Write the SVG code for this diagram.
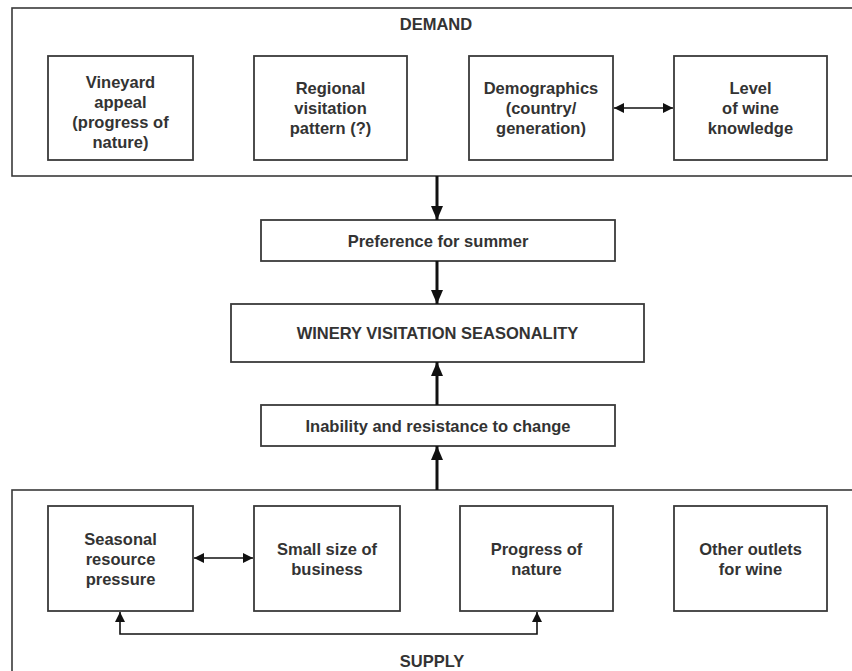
<svg xmlns="http://www.w3.org/2000/svg" width="852" height="671" viewBox="0 0 852 671">
  <style>
    .frame { fill: #ffffff; stroke: #3a3a3a; stroke-width: 1.6; }
    .box { fill: #ffffff; stroke: #3a3a3a; stroke-width: 1.8; }
    text { font-family: "Liberation Sans", Arial, Helvetica, sans-serif; font-weight: bold; font-size: 16.5px; fill: #333333; text-anchor: middle; }
    .main { fill: none; stroke: #111111; stroke-width: 3; }
    .thin { fill: none; stroke: #111111; stroke-width: 1.6; }
  </style>
  <defs>
    <marker id="bigHead" viewBox="0 0 14 12" refX="14" refY="6" markerWidth="14" markerHeight="12" markerUnits="userSpaceOnUse" orient="auto">
      <path d="M0,0 L14,6 L0,12 Z" fill="#111111"/>
    </marker>
    <marker id="smallHead" viewBox="0 0 10 10" refX="10" refY="5" markerWidth="10" markerHeight="10" markerUnits="userSpaceOnUse" orient="auto-start-reverse">
      <path d="M0,0 L10,5 L0,10 Z" fill="#111111"/>
    </marker>
  </defs>
  <rect width="852" height="671" fill="#ffffff"/>

  <!-- Demand panel -->
  <g id="demand">
    <rect class="frame" x="12" y="8" width="852" height="168"/>
    <text x="436" y="30">DEMAND</text>
  </g>
  <g id="vineyard-appeal">
    <rect class="box" x="48" y="56" width="145" height="104"/>
    <text x="120.5" y="88">Vineyard</text>
    <text x="120.5" y="108">appeal</text>
    <text x="120.5" y="128">(progress of</text>
    <text x="120.5" y="148">nature)</text>
  </g>
  <g id="regional-pattern">
    <rect class="box" x="254" y="56" width="153" height="104"/>
    <text x="330.5" y="94">Regional</text>
    <text x="330.5" y="114">visitation</text>
    <text x="330.5" y="134">pattern (?)</text>
  </g>
  <g id="demographics">
    <rect class="box" x="469" y="56" width="144" height="104"/>
    <text x="541" y="94">Demographics</text>
    <text x="541" y="114">(country/</text>
    <text x="541" y="134">generation)</text>
  </g>
  <g id="wine-knowledge">
    <rect class="box" x="674" y="56" width="153" height="104"/>
    <text x="750.5" y="94">Level</text>
    <text x="750.5" y="114">of wine</text>
    <text x="750.5" y="134">knowledge</text>
  </g>

  <!-- Central chain -->
  <g id="preference-summer">
    <rect class="box" x="261" y="220" width="354" height="41"/>
    <text x="438" y="247">Preference for summer</text>
  </g>
  <g id="seasonality">
    <rect class="box" x="231" y="304" width="413" height="58"/>
    <text x="437.5" y="339">WINERY VISITATION SEASONALITY</text>
  </g>
  <g id="resistance-change">
    <rect class="box" x="261" y="405" width="354" height="41"/>
    <text x="438" y="432">Inability and resistance to change</text>
  </g>

  <!-- Supply panel -->
  <g id="supply">
    <rect class="frame" x="12" y="490" width="852" height="200"/>
    <text x="432" y="667">SUPPLY</text>
  </g>
  <g id="resource-pressure">
    <rect class="box" x="48" y="506" width="145" height="105"/>
    <text x="120.5" y="545">Seasonal</text>
    <text x="120.5" y="565">resource</text>
    <text x="120.5" y="585">pressure</text>
  </g>
  <g id="business-size">
    <rect class="box" x="254" y="506" width="146" height="105"/>
    <text x="327" y="555">Small size of</text>
    <text x="327" y="575">business</text>
  </g>
  <g id="progress-nature">
    <rect class="box" x="460" y="506" width="153" height="105"/>
    <text x="536.5" y="555">Progress of</text>
    <text x="536.5" y="575">nature</text>
  </g>
  <g id="other-outlets">
    <rect class="box" x="674" y="506" width="153" height="105"/>
    <text x="750.5" y="555">Other outlets</text>
    <text x="750.5" y="575">for wine</text>
  </g>

  <!-- Connectors -->
  <g id="connectors">
    <line class="main" x1="437" y1="176" x2="437" y2="220" marker-end="url(#bigHead)"/>
    <line class="main" x1="437" y1="261" x2="437" y2="304" marker-end="url(#bigHead)"/>
    <line class="main" x1="437" y1="405" x2="437" y2="362" marker-end="url(#bigHead)"/>
    <line class="main" x1="437" y1="490" x2="437" y2="446" marker-end="url(#bigHead)"/>
    <line class="thin" x1="614" y1="108" x2="673" y2="108" marker-start="url(#smallHead)" marker-end="url(#smallHead)"/>
    <line class="thin" x1="194" y1="558" x2="253" y2="558" marker-start="url(#smallHead)" marker-end="url(#smallHead)"/>
    <polyline class="thin" points="120,612 120,634 537,634 537,612" marker-start="url(#smallHead)" marker-end="url(#smallHead)"/>
  </g>
</svg>
